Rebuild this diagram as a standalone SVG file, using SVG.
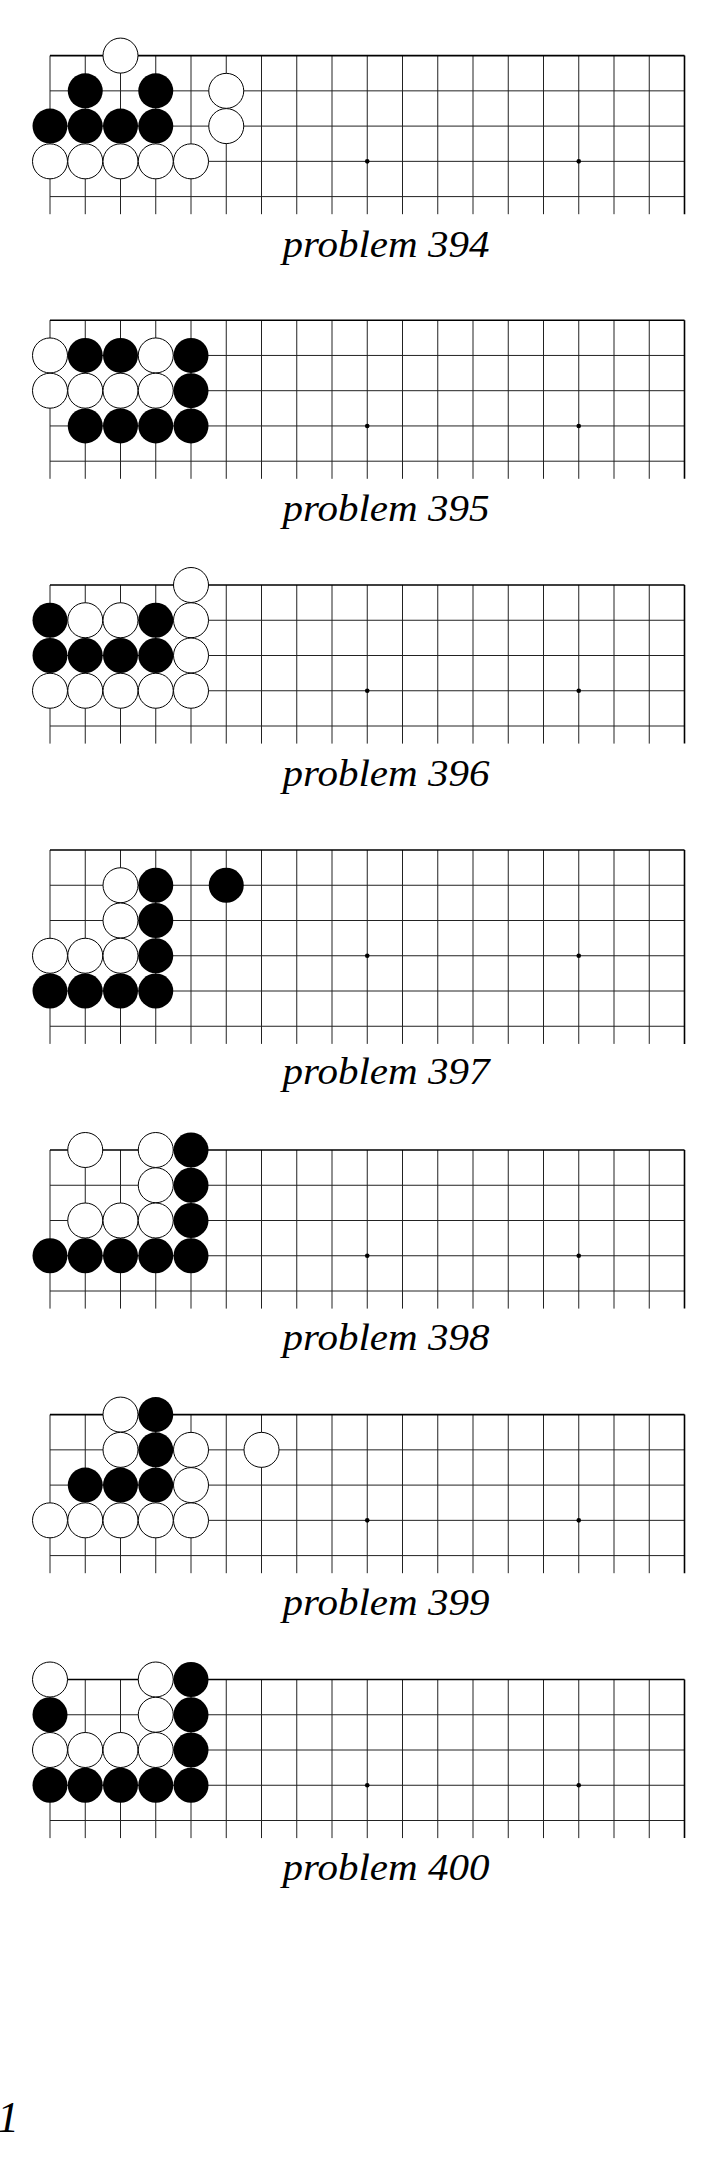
<svg xmlns="http://www.w3.org/2000/svg" xmlns:xlink="http://www.w3.org/1999/xlink" width="725" height="2181" viewBox="0 0 725 2181">
<style>
.bg{fill:#fff}
.ln{fill:none;stroke:#222;stroke-width:1}
.edge{fill:none;stroke:#000;stroke-width:1.6}
.w{fill:#fff;stroke:#000;stroke-width:1}
.b{fill:#000}
.hs{fill:#000}
.lbl{font-family:"Liberation Serif","Times New Roman",serif;font-style:italic;font-size:37px;fill:#000}
</style>
<defs>
<g id="grid5">
<path class="ln" d="M50 35.25H684.5M50 70.5H684.5M50 105.75H684.5M50 141H684.5M50 0V158.6M85.25 0V158.6M120.5 0V158.6M155.75 0V158.6M191 0V158.6M226.25 0V158.6M261.5 0V158.6M296.75 0V158.6M332 0V158.6M367.25 0V158.6M402.5 0V158.6M437.75 0V158.6M473 0V158.6M508.25 0V158.6M543.5 0V158.6M578.75 0V158.6M614 0V158.6M649.25 0V158.6"/>
<path class="edge" d="M50 0H684.5M684.5 0V158.6"/>
<circle class="hs" cx="367.25" cy="105.75" r="2.3"/>
<circle class="hs" cx="578.75" cy="105.75" r="2.3"/>
</g>
<g id="grid6">
<path class="ln" d="M50 35.25H684.5M50 70.5H684.5M50 105.75H684.5M50 141H684.5M50 176.25H684.5M50 0V193.9M85.25 0V193.9M120.5 0V193.9M155.75 0V193.9M191 0V193.9M226.25 0V193.9M261.5 0V193.9M296.75 0V193.9M332 0V193.9M367.25 0V193.9M402.5 0V193.9M437.75 0V193.9M473 0V193.9M508.25 0V193.9M543.5 0V193.9M578.75 0V193.9M614 0V193.9M649.25 0V193.9"/>
<path class="edge" d="M50 0H684.5M684.5 0V193.9"/>
<circle class="hs" cx="367.25" cy="105.75" r="2.3"/>
<circle class="hs" cx="578.75" cy="105.75" r="2.3"/>
</g>
</defs>
<rect class="bg" x="0" y="0" width="725" height="2181"/>

<g id="p394">
<g transform="translate(0,55.6)">
<use xlink:href="#grid5" href="#grid5"/>
<circle class="w" cx="120.5" cy="0" r="17.5"/>
<circle class="b" cx="85.25" cy="35.25" r="17.5"/>
<circle class="b" cx="155.75" cy="35.25" r="17.5"/>
<circle class="w" cx="226.25" cy="35.25" r="17.5"/>
<circle class="b" cx="50" cy="70.5" r="17.5"/>
<circle class="b" cx="85.25" cy="70.5" r="17.5"/>
<circle class="b" cx="120.5" cy="70.5" r="17.5"/>
<circle class="b" cx="155.75" cy="70.5" r="17.5"/>
<circle class="w" cx="226.25" cy="70.5" r="17.5"/>
<circle class="w" cx="50" cy="105.75" r="17.5"/>
<circle class="w" cx="85.25" cy="105.75" r="17.5"/>
<circle class="w" cx="120.5" cy="105.75" r="17.5"/>
<circle class="w" cx="155.75" cy="105.75" r="17.5"/>
<circle class="w" cx="191" cy="105.75" r="17.5"/>
</g>
<text class="lbl" x="386" y="257" text-anchor="middle" textLength="207" lengthAdjust="spacingAndGlyphs">problem 394</text>
</g>

<g id="p395">
<g transform="translate(0,320.2)">
<use xlink:href="#grid5" href="#grid5"/>
<circle class="w" cx="50" cy="35.25" r="17.5"/>
<circle class="b" cx="85.25" cy="35.25" r="17.5"/>
<circle class="b" cx="120.5" cy="35.25" r="17.5"/>
<circle class="w" cx="155.75" cy="35.25" r="17.5"/>
<circle class="b" cx="191" cy="35.25" r="17.5"/>
<circle class="w" cx="50" cy="70.5" r="17.5"/>
<circle class="w" cx="85.25" cy="70.5" r="17.5"/>
<circle class="w" cx="120.5" cy="70.5" r="17.5"/>
<circle class="w" cx="155.75" cy="70.5" r="17.5"/>
<circle class="b" cx="191" cy="70.5" r="17.5"/>
<circle class="b" cx="85.25" cy="105.75" r="17.5"/>
<circle class="b" cx="120.5" cy="105.75" r="17.5"/>
<circle class="b" cx="155.75" cy="105.75" r="17.5"/>
<circle class="b" cx="191" cy="105.75" r="17.5"/>
</g>
<text class="lbl" x="386" y="521" text-anchor="middle" textLength="207" lengthAdjust="spacingAndGlyphs">problem 395</text>
</g>

<g id="p396">
<g transform="translate(0,585)">
<use xlink:href="#grid5" href="#grid5"/>
<circle class="w" cx="191" cy="0" r="17.5"/>
<circle class="b" cx="50" cy="35.25" r="17.5"/>
<circle class="w" cx="85.25" cy="35.25" r="17.5"/>
<circle class="w" cx="120.5" cy="35.25" r="17.5"/>
<circle class="b" cx="155.75" cy="35.25" r="17.5"/>
<circle class="w" cx="191" cy="35.25" r="17.5"/>
<circle class="b" cx="50" cy="70.5" r="17.5"/>
<circle class="b" cx="85.25" cy="70.5" r="17.5"/>
<circle class="b" cx="120.5" cy="70.5" r="17.5"/>
<circle class="b" cx="155.75" cy="70.5" r="17.5"/>
<circle class="w" cx="191" cy="70.5" r="17.5"/>
<circle class="w" cx="50" cy="105.75" r="17.5"/>
<circle class="w" cx="85.25" cy="105.75" r="17.5"/>
<circle class="w" cx="120.5" cy="105.75" r="17.5"/>
<circle class="w" cx="155.75" cy="105.75" r="17.5"/>
<circle class="w" cx="191" cy="105.75" r="17.5"/>
</g>
<text class="lbl" x="386" y="785.5" text-anchor="middle" textLength="207" lengthAdjust="spacingAndGlyphs">problem 396</text>
</g>

<g id="p397">
<g transform="translate(0,850)">
<use xlink:href="#grid6" href="#grid6"/>
<circle class="w" cx="120.5" cy="35.25" r="17.5"/>
<circle class="b" cx="155.75" cy="35.25" r="17.5"/>
<circle class="b" cx="226.25" cy="35.25" r="17.5"/>
<circle class="w" cx="120.5" cy="70.5" r="17.5"/>
<circle class="b" cx="155.75" cy="70.5" r="17.5"/>
<circle class="w" cx="50" cy="105.75" r="17.5"/>
<circle class="w" cx="85.25" cy="105.75" r="17.5"/>
<circle class="w" cx="120.5" cy="105.75" r="17.5"/>
<circle class="b" cx="155.75" cy="105.75" r="17.5"/>
<circle class="b" cx="50" cy="141" r="17.5"/>
<circle class="b" cx="85.25" cy="141" r="17.5"/>
<circle class="b" cx="120.5" cy="141" r="17.5"/>
<circle class="b" cx="155.75" cy="141" r="17.5"/>
</g>
<text class="lbl" x="386" y="1084" text-anchor="middle" textLength="207" lengthAdjust="spacingAndGlyphs">problem 397</text>
</g>

<g id="p398">
<g transform="translate(0,1150)">
<use xlink:href="#grid5" href="#grid5"/>
<circle class="w" cx="85.25" cy="0" r="17.5"/>
<circle class="w" cx="155.75" cy="0" r="17.5"/>
<circle class="b" cx="191" cy="0" r="17.5"/>
<circle class="w" cx="155.75" cy="35.25" r="17.5"/>
<circle class="b" cx="191" cy="35.25" r="17.5"/>
<circle class="w" cx="85.25" cy="70.5" r="17.5"/>
<circle class="w" cx="120.5" cy="70.5" r="17.5"/>
<circle class="w" cx="155.75" cy="70.5" r="17.5"/>
<circle class="b" cx="191" cy="70.5" r="17.5"/>
<circle class="b" cx="50" cy="105.75" r="17.5"/>
<circle class="b" cx="85.25" cy="105.75" r="17.5"/>
<circle class="b" cx="120.5" cy="105.75" r="17.5"/>
<circle class="b" cx="155.75" cy="105.75" r="17.5"/>
<circle class="b" cx="191" cy="105.75" r="17.5"/>
</g>
<text class="lbl" x="386" y="1350" text-anchor="middle" textLength="207" lengthAdjust="spacingAndGlyphs">problem 398</text>
</g>

<g id="p399">
<g transform="translate(0,1414.6)">
<use xlink:href="#grid5" href="#grid5"/>
<circle class="w" cx="120.5" cy="0" r="17.5"/>
<circle class="b" cx="155.75" cy="0" r="17.5"/>
<circle class="w" cx="120.5" cy="35.25" r="17.5"/>
<circle class="b" cx="155.75" cy="35.25" r="17.5"/>
<circle class="w" cx="191" cy="35.25" r="17.5"/>
<circle class="w" cx="261.5" cy="35.25" r="17.5"/>
<circle class="b" cx="85.25" cy="70.5" r="17.5"/>
<circle class="b" cx="120.5" cy="70.5" r="17.5"/>
<circle class="b" cx="155.75" cy="70.5" r="17.5"/>
<circle class="w" cx="191" cy="70.5" r="17.5"/>
<circle class="w" cx="50" cy="105.75" r="17.5"/>
<circle class="w" cx="85.25" cy="105.75" r="17.5"/>
<circle class="w" cx="120.5" cy="105.75" r="17.5"/>
<circle class="w" cx="155.75" cy="105.75" r="17.5"/>
<circle class="w" cx="191" cy="105.75" r="17.5"/>
</g>
<text class="lbl" x="386" y="1615" text-anchor="middle" textLength="207" lengthAdjust="spacingAndGlyphs">problem 399</text>
</g>

<g id="p400">
<g transform="translate(0,1679.5)">
<use xlink:href="#grid5" href="#grid5"/>
<circle class="w" cx="50" cy="0" r="17.5"/>
<circle class="w" cx="155.75" cy="0" r="17.5"/>
<circle class="b" cx="191" cy="0" r="17.5"/>
<circle class="b" cx="50" cy="35.25" r="17.5"/>
<circle class="w" cx="155.75" cy="35.25" r="17.5"/>
<circle class="b" cx="191" cy="35.25" r="17.5"/>
<circle class="w" cx="50" cy="70.5" r="17.5"/>
<circle class="w" cx="85.25" cy="70.5" r="17.5"/>
<circle class="w" cx="120.5" cy="70.5" r="17.5"/>
<circle class="w" cx="155.75" cy="70.5" r="17.5"/>
<circle class="b" cx="191" cy="70.5" r="17.5"/>
<circle class="b" cx="50" cy="105.75" r="17.5"/>
<circle class="b" cx="85.25" cy="105.75" r="17.5"/>
<circle class="b" cx="120.5" cy="105.75" r="17.5"/>
<circle class="b" cx="155.75" cy="105.75" r="17.5"/>
<circle class="b" cx="191" cy="105.75" r="17.5"/>
</g>
<text class="lbl" x="386" y="1880" text-anchor="middle" textLength="207" lengthAdjust="spacingAndGlyphs">problem 400</text>
</g>

<g id="page-number">
<text class="lbl" x="-3" y="2132" style="font-size:44px">1</text>
</g>
</svg>
